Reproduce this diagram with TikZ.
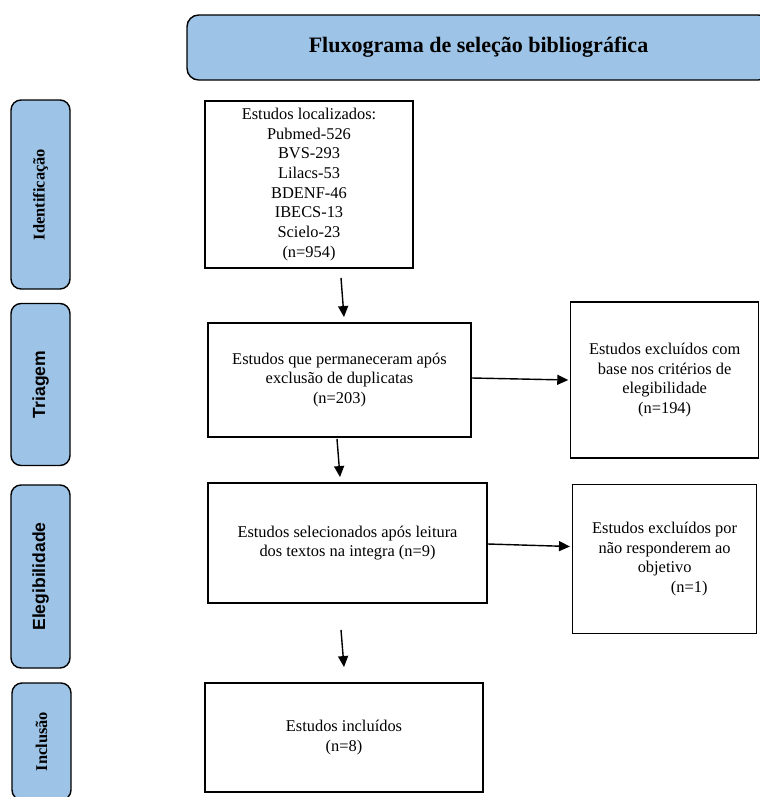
\documentclass[tikz,border=0pt]{standalone}
\usepackage{fontspec}
\setmainfont{Liberation Serif}
\newfontfamily\arialfont{Liberation Sans}
\usetikzlibrary{arrows.meta,positioning}
\definecolor{phaseblue}{RGB}{157,195,230}

\begin{document}
\begin{tikzpicture}[
  x=0.3mm, y=-0.3mm,
  phase/.style={draw, line width=1.2pt, rounded corners=3mm, fill=phaseblue, rotate=90, minimum height=17.7mm, inner sep=1pt},
  stage/.style={draw, line width=1.6pt, align=center, inner sep=2pt, font=\fontsize{14}{16.8}\selectfont},
  excl/.style={draw, line width=1.2pt, align=center, inner sep=2pt, font=\fontsize{14}{16.8}\selectfont},
  arr/.style={-{Triangle[width=3mm,length=3.3mm]}, line width=1.2pt}
]
\useasboundingbox (0,0) rectangle (760,797);

% titulo
\node[draw, line width=1.2pt, rounded corners=3.5mm, fill=phaseblue, minimum width=174.9mm, minimum height=19.5mm, font=\bfseries\fontsize{18.8}{22}\selectfont] (title) at (478.5,47.5) {Fluxograma de seleção bibliográfica};

% fases
\node[phase, minimum width=56.7mm, font=\bfseries\fontsize{14}{16}\selectfont] (ident) at (40.5,194.5) {Identificação};
\node[phase, minimum width=48.6mm, font=\arialfont\bfseries\fontsize{15}{17}\selectfont] (triag) at (40.5,384.5) {Triagem};
\node[phase, minimum width=54.9mm, font=\arialfont\bfseries\fontsize{15}{17}\selectfont] (eleg) at (40.5,576.5) {Elegibilidade};
\node[phase, minimum width=35.1mm, font=\bfseries\fontsize{14}{16}\selectfont] (incl) at (41.5,741.5) {Inclusão};

% caixas principais
\node[stage, minimum width=62.4mm, minimum height=50.1mm] (loc) at (309,184.5) {Estudos localizados:\\ Pubmed-526\\ BVS-293\\ Lilacs-53\\ BDENF-46\\ IBECS-13\\ Scielo-23\\ (n=954)};
\node[stage, minimum width=78.9mm, minimum height=34.2mm] (dup) at (339.5,380) {Estudos que permaneceram após\\ exclusão de duplicatas\\ (n=203)};
\node[stage, minimum width=83.7mm, minimum height=36mm] (sel) at (347.5,543) {Estudos selecionados após leitura\\ dos textos na integra (n=9)};
\node[stage, minimum width=83.4mm, minimum height=32.7mm] (inc) at (344,737.5) {Estudos incluídos\\ (n=8)};

% excluidos
\node[excl, right=29.4mm of dup, minimum width=56.4mm, minimum height=46.8mm] (exc1) {Estudos excluídos com\\ base nos critérios de\\ elegibilidade\\ (n=194)};
\node[excl, right=25.2mm of sel, yshift=-4.8mm, minimum width=55.2mm, minimum height=44.7mm] (exc2) {Estudos excluídos por\\ não responderem ao\\ objetivo\\ \hspace*{3em}(n=1)};

\draw[arr] ([shift={(32,9)}]loc.south) -- ([shift={(4.5,-5)}]dup.north);
\draw[arr] ([shift={(-2.5,1)}]dup.south) -- ([shift={(-7.5,-5)}]sel.north);
\draw[arr] ([shift={(-6.5,26)}]sel.south) -- ([shift={(0,-15)}]inc.north);
\draw[arr] ([yshift=0.6mm]dup.east) -- ([xshift=-0.5mm]exc1.west);
\draw[arr] ([yshift=-0.3mm]sel.east) -- ([shift={(-2,-12.5)}]exc2.west);

\end{tikzpicture}
\end{document}
